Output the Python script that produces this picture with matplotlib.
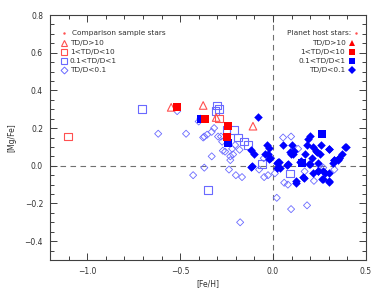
import matplotlib
matplotlib.use('Agg')
import matplotlib.pyplot as plt
from matplotlib.ticker import MultipleLocator

# Comparison sample stars (open symbols)
cmp_tri_x = [-0.548, -0.376, -0.306, -0.108]
cmp_tri_y = [0.31, 0.32, 0.256, 0.21]
cmp_sq1_x = [-1.102, -0.29]
cmp_sq1_y = [0.155, 0.25]
cmp_sq2_x = [-0.704, -0.30, -0.29, -0.31, -0.25, -0.21, -0.19, -0.156, -0.134, -0.35, -0.06, 0.09]
cmp_sq2_y = [0.30, 0.32, 0.30, 0.29, 0.19, 0.19, 0.15, 0.128, 0.11, -0.13, 0.01, -0.04]
cmp_dia_x = [-0.618, -0.468, -0.516, -0.43, -0.37, -0.33, -0.27, -0.23, -0.215, -0.20,
             -0.167, -0.177, -0.18, -0.237, -0.075, -0.048, -0.027, -0.05, 0.02, 0.097,
             0.183, 0.06, 0.08, 0.01, 0.10, 0.135, 0.17, 0.22, 0.25, 0.27, 0.33, -0.01,
             -0.40, -0.39, -0.37, -0.355, -0.33, -0.317, -0.296, -0.28, 0.054, 0.097,
             -0.376, -0.274, -0.258, -0.22, -0.204, -0.23]
cmp_dia_y = [0.17, 0.17, 0.29, -0.05, -0.01, 0.05, 0.08, 0.03, 0.06, -0.05,
             -0.06, -0.30, 0.085, -0.02, -0.02, -0.06, -0.05, 0.04, -0.17, -0.23,
             -0.21, -0.09, -0.10, -0.04, 0.07, 0.09, -0.03, -0.08, 0.0, -0.01, -0.02, 0.04,
             0.235, 0.25, 0.155, 0.165, 0.18, 0.20, 0.155, 0.155, 0.15, 0.155,
             0.15, 0.128, 0.075, 0.09, 0.11, 0.05]

# Planet host stars (filled symbols)
ph_sq1_x = [-0.516, -0.366, -0.24, -0.247]
ph_sq1_y = [0.31, 0.25, 0.21, 0.155]
ph_sq2_x = [-0.39, -0.24, 0.263, 0.156]
ph_sq2_y = [0.25, 0.12, 0.17, 0.016]
ph_dia_x = [-0.08, -0.12, -0.105, -0.032, -0.022, -0.043, -0.017, -0.113, 0.02, 0.037, 0.027,
            0.20, 0.19, 0.185, 0.054, 0.10, 0.26, 0.30, 0.215, 0.237, 0.253, 0.39, 0.37, 0.355,
            0.33, 0.09, 0.108, 0.17, 0.145, 0.075, 0.20, 0.215, 0.24, 0.28, 0.16, 0.124, 0.263,
            0.30, 0.32, 0.35, 0.24, -0.12, -0.027, -0.022, 0.02, 0.03, 0.08, 0.097, 0.113,
            0.15, 0.193, 0.21, 0.23, 0.242, 0.27, 0.30, 0.27, 0.167, 0.124, 0.30, 0.33, 0.355,
            0.387, 0.30]
ph_dia_y = [0.26, 0.085, 0.064, 0.11, 0.096, 0.06, 0.043, 0.0, 0.016, -0.011, 0.021,
            0.16, 0.14, 0.11, 0.11, 0.11, 0.11, 0.09, 0.10, 0.075, 0.06, 0.10, 0.064, 0.04,
            0.03, 0.075, 0.06, 0.06, 0.02, 0.005, 0.01, -0.04, -0.03, -0.04, -0.06, -0.09, -0.07,
            -0.085, 0.015, 0.03, 0.016, -0.005, 0.064, 0.037, -0.01, 0.02, 0.011, 0.064, 0.08,
            0.027, 0.011, 0.043, 0.08, -0.027, -0.027, -0.037, -0.07, -0.065, -0.08, -0.08, 0.03,
            0.043, 0.10, 0.09]

light_red = '#ff5050'
light_blue = '#6a6aff'

fig = plt.figure(figsize=(3.82, 2.92), dpi=100)
ax = fig.add_axes([0.131, 0.1096, 0.827, 0.839])

ax.axhline(0, color='#707070', ls=(0, (5, 4)), lw=0.8, zorder=1)
ax.axvline(0, color='#707070', ls=(0, (5, 4)), lw=0.8, zorder=1)

ax.scatter(cmp_dia_x, cmp_dia_y, marker='D', s=13, facecolors='none', edgecolors=light_blue, linewidths=0.6, zorder=2)
ax.scatter(cmp_sq2_x, cmp_sq2_y, marker='s', s=30, facecolors='none', edgecolors=light_blue, linewidths=0.8, zorder=2)
ax.scatter(cmp_sq1_x, cmp_sq1_y, marker='s', s=30, facecolors='none', edgecolors=light_red, linewidths=0.8, zorder=2)
ax.scatter(cmp_tri_x, cmp_tri_y, marker='^', s=30, facecolors='none', edgecolors=light_red, linewidths=0.8, zorder=2)
ax.scatter(ph_dia_x, ph_dia_y, marker='D', s=19, color='#0000ff', linewidths=0, zorder=3)
ax.scatter(ph_sq2_x, ph_sq2_y, marker='s', s=34, color='#0000ff', linewidths=0, zorder=3)
ax.scatter(ph_sq1_x, ph_sq1_y, marker='s', s=34, color='#ff0000', linewidths=0, zorder=3)

ax.set_xlim(-1.2, 0.5)
ax.set_ylim(-0.5, 0.8)
ax.xaxis.set_major_locator(MultipleLocator(0.5))
ax.xaxis.set_minor_locator(MultipleLocator(0.1))
ax.yaxis.set_major_locator(MultipleLocator(0.2))
ax.yaxis.set_minor_locator(MultipleLocator(0.05))
ax.tick_params(which='both', direction='in', top=True, right=True, labelsize=5.5,
               labelcolor='#303030', color='#404040', width=0.7)
ax.tick_params(which='major', length=5, pad=5)
ax.tick_params(which='minor', length=3)
for s in ax.spines.values():
    s.set_color('#404040')
    s.set_linewidth(0.8)

ax.set_xlabel('[Fe/H]', fontsize=5.5, color='#303030', labelpad=2)
ax.set_ylabel('[Mg/Fe]', fontsize=5.5, color='#303030', labelpad=6)

# left legend (comparison sample)
tx = dict(fontsize=5.3, color='#303030', va='center', transform=ax.transAxes)
rows = [0.925, 0.885, 0.848, 0.812, 0.775]
ax.plot(0.045, rows[0], '.', ms=1.5, color=light_red, transform=ax.transAxes)
ax.text(0.07, rows[0], 'Comparison sample stars', **tx)
ax.plot(0.045, rows[1], '^', ms=4.5, mfc='none', mec=light_red, mew=0.8, transform=ax.transAxes)
ax.text(0.063, rows[1], 'TD/D>10', **tx)
ax.plot(0.045, rows[2], 's', ms=4.5, mfc='none', mec=light_red, mew=0.8, transform=ax.transAxes)
ax.text(0.063, rows[2], '1<TD/D<10', **tx)
ax.plot(0.045, rows[3], 's', ms=4.5, mfc='none', mec=light_blue, mew=0.8, transform=ax.transAxes)
ax.text(0.063, rows[3], '0.1<TD/D<1', **tx)
ax.plot(0.045, rows[4], 'D', ms=3.5, mfc='none', mec=light_blue, mew=0.7, transform=ax.transAxes)
ax.text(0.063, rows[4], 'TD/D<0.1', **tx)

# right legend (planet hosts)
rx = 0.935
ax.text(0.955, rows[0], 'Planet host stars:', ha='right', **tx)
ax.plot(0.968, rows[0], '.', ms=1.5, color=light_red, transform=ax.transAxes)
ax.text(rx, rows[1], 'TD/D>10', ha='right', **tx)
ax.plot(0.955, rows[1], '^', ms=4.5, color='#ff0000', mew=0, transform=ax.transAxes)
ax.text(rx, rows[2], '1<TD/D<10', ha='right', **tx)
ax.plot(0.955, rows[2], 's', ms=4.5, color='#ff0000', mew=0, transform=ax.transAxes)
ax.text(rx, rows[3], '0.1<TD/D<1', ha='right', **tx)
ax.plot(0.955, rows[3], 's', ms=4.5, color='#0000ff', mew=0, transform=ax.transAxes)
ax.text(rx, rows[4], 'TD/D<0.1', ha='right', **tx)
ax.plot(0.955, rows[4], 'D', ms=4, color='#0000ff', mew=0, transform=ax.transAxes)

fig.savefig('out.png', dpi=100)
